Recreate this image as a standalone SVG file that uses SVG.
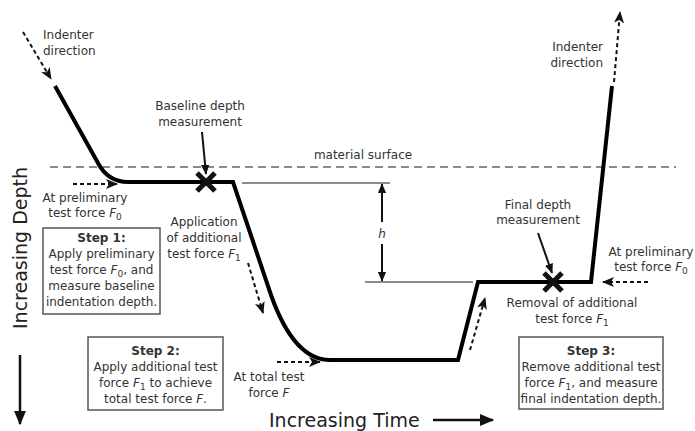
<svg xmlns="http://www.w3.org/2000/svg" width="695" height="431" viewBox="0 0 695 431">
<style>
text{font-family:"DejaVu Sans","Liberation Sans",sans-serif;font-size:12px;fill:#333}
.c{text-anchor:middle}
.b{font-weight:bold}
.big{font-size:19px;fill:#222}
.dash{fill:none;stroke:#111;stroke-width:2;stroke-dasharray:4 3}
.sol{fill:none;stroke:#111;stroke-width:2}
.axis{fill:none;stroke:#111;stroke-width:2.5}
.box{fill:#fff;stroke:#555;stroke-width:1.5}
.gray{fill:none;stroke:#666;stroke-width:1.5}
.x{stroke:#111;stroke-width:5;fill:none}
</style>
<defs>
<marker id="ah" viewBox="0 0 12 10" refX="11" refY="5" markerWidth="12" markerHeight="10" markerUnits="userSpaceOnUse" orient="auto">
<path d="M0,0 L12,5 L0,10 L3,5 z" fill="#111"/>
</marker>
<marker id="ahs" viewBox="0 0 12 10" refX="11" refY="5" markerWidth="10" markerHeight="9" markerUnits="userSpaceOnUse" orient="auto">
<path d="M0,0 L12,5 L0,10 z" fill="#111"/>
</marker>
<marker id="ahb" viewBox="0 0 12 10" refX="11" refY="5" markerWidth="15" markerHeight="12" markerUnits="userSpaceOnUse" orient="auto">
<path d="M0,0 L12,5 L0,10 z" fill="#111"/>
</marker>
</defs>

<g id="surface">
<line x1="50" y1="167" x2="676" y2="167" stroke="#666" stroke-width="1.5" stroke-dasharray="8 5"/>
<text class="c" x="363" y="159">material surface</text>
</g>

<g id="curve">
<path d="M55,86 L98,163 Q108,182 128,182 L233,182 L271,295 Q294,360 330,360 L458,360 L478,282 L591,282 L612,86" fill="none" stroke="#000" stroke-width="4" stroke-linejoin="miter"/>
</g>

<g id="h-dimension">
<line class="gray" x1="242" y1="183" x2="390" y2="183"/>
<line class="gray" x1="365" y1="282" x2="473" y2="282"/>
<text x="382" y="238" class="c" font-style="italic">h</text>
</g>

<g id="connectors">
<line class="dash" x1="23" y1="32" x2="51" y2="79" marker-end="url(#ah)"/>
<line class="dash" x1="73" y1="184" x2="117" y2="184" marker-end="url(#ah)"/>
<line class="dash" x1="248" y1="263" x2="263" y2="313" marker-end="url(#ah)"/>
<line class="dash" x1="277" y1="362" x2="320" y2="362" marker-end="url(#ah)"/>
<line class="dash" x1="470" y1="350" x2="485" y2="298" marker-end="url(#ah)"/>
<line class="dash" x1="648" y1="282" x2="603" y2="282" marker-end="url(#ah)"/>
<line class="dash" x1="614" y1="82" x2="620" y2="12" marker-end="url(#ah)"/>
<line class="sol" x1="202" y1="132" x2="206" y2="174" marker-end="url(#ahs)"/>
<line class="sol" x1="538" y1="233" x2="552" y2="273" marker-end="url(#ahs)"/>
<line class="sol" x1="382" y1="222" x2="382" y2="184" marker-end="url(#ahs)"/>
<line class="sol" x1="382" y1="244" x2="382" y2="281" marker-end="url(#ahs)"/>
<line class="axis" x1="20" y1="355" x2="20" y2="424" marker-end="url(#ahb)"/>
<line class="axis" x1="433" y1="420" x2="493" y2="420" marker-end="url(#ahb)"/>
</g>

<g id="baseline-mark">
<path class="x" d="M197,173 L215,191 M215,173 L197,191"/>
<text class="c" x="200" y="110">Baseline depth</text>
<text class="c" x="200" y="126">measurement</text>
</g>

<g id="final-mark">
<path class="x" d="M544,273 L562,291 M562,273 L544,291"/>
<text class="c" x="538" y="209">Final depth</text>
<text class="c" x="538" y="224">measurement</text>
</g>

<g id="indenter-left">
<text x="43" y="39">Indenter</text>
<text x="43" y="55">direction</text>
</g>

<g id="indenter-right">
<text x="603" y="51" text-anchor="end">Indenter</text>
<text x="603" y="67" text-anchor="end">direction</text>
</g>

<g id="prelim-left">
<text class="c" x="85" y="202">At preliminary</text>
<text class="c" x="85" y="217">test force <tspan font-style="italic">F</tspan><tspan font-size="9" dy="3">0</tspan></text>
</g>

<g id="prelim-right">
<text class="c" x="651" y="256">At preliminary</text>
<text class="c" x="651" y="271">test force <tspan font-style="italic">F</tspan><tspan font-size="9" dy="3">0</tspan></text>
</g>

<g id="application">
<text class="c" x="204" y="226">Application</text>
<text class="c" x="204" y="242">of additional</text>
<text class="c" x="204" y="258">test force <tspan font-style="italic">F</tspan><tspan font-size="9" dy="3">1</tspan></text>
</g>

<g id="total">
<text class="c" x="269" y="381">At total test</text>
<text class="c" x="269" y="397">force <tspan font-style="italic">F</tspan></text>
</g>

<g id="removal">
<text class="c" x="572" y="307">Removal of additional</text>
<text class="c" x="572" y="323">test force <tspan font-style="italic">F</tspan><tspan font-size="9" dy="3">1</tspan></text>
</g>

<g id="step1">
<rect class="box" x="43" y="228" width="117" height="86"/>
<text class="c b" x="101.5" y="242">Step 1:</text>
<text class="c" x="101.5" y="258">Apply preliminary</text>
<text class="c" x="101.5" y="274">test force <tspan font-style="italic">F</tspan><tspan font-size="9" dy="3">0</tspan><tspan dy="-3">, and</tspan></text>
<text class="c" x="101.5" y="290">measure baseline</text>
<text class="c" x="101.5" y="306">indentation depth.</text>
</g>

<g id="step2">
<rect class="box" x="88" y="337" width="135" height="73"/>
<text class="c b" x="155.5" y="355">Step 2:</text>
<text class="c" x="155.5" y="371">Apply additional test</text>
<text class="c" x="155.5" y="387">force <tspan font-style="italic">F</tspan><tspan font-size="9" dy="3">1</tspan><tspan dy="-3"> to achieve</tspan></text>
<text class="c" x="155.5" y="403">total test force <tspan font-style="italic">F</tspan>.</text>
</g>

<g id="step3">
<rect class="box" x="519" y="337" width="144" height="72"/>
<text class="c b" x="591" y="355">Step 3:</text>
<text class="c" x="591" y="371">Remove additional test</text>
<text class="c" x="591" y="387">force <tspan font-style="italic">F</tspan><tspan font-size="9" dy="3">1</tspan><tspan dy="-3">, and measure</tspan></text>
<text class="c" x="591" y="403">final indentation depth.</text>
</g>

<g id="axes">
<text class="big" x="269" y="427">Increasing Time</text>
<text class="big c" transform="translate(27,248) rotate(-90)">Increasing Depth</text>
</g>
</svg>
